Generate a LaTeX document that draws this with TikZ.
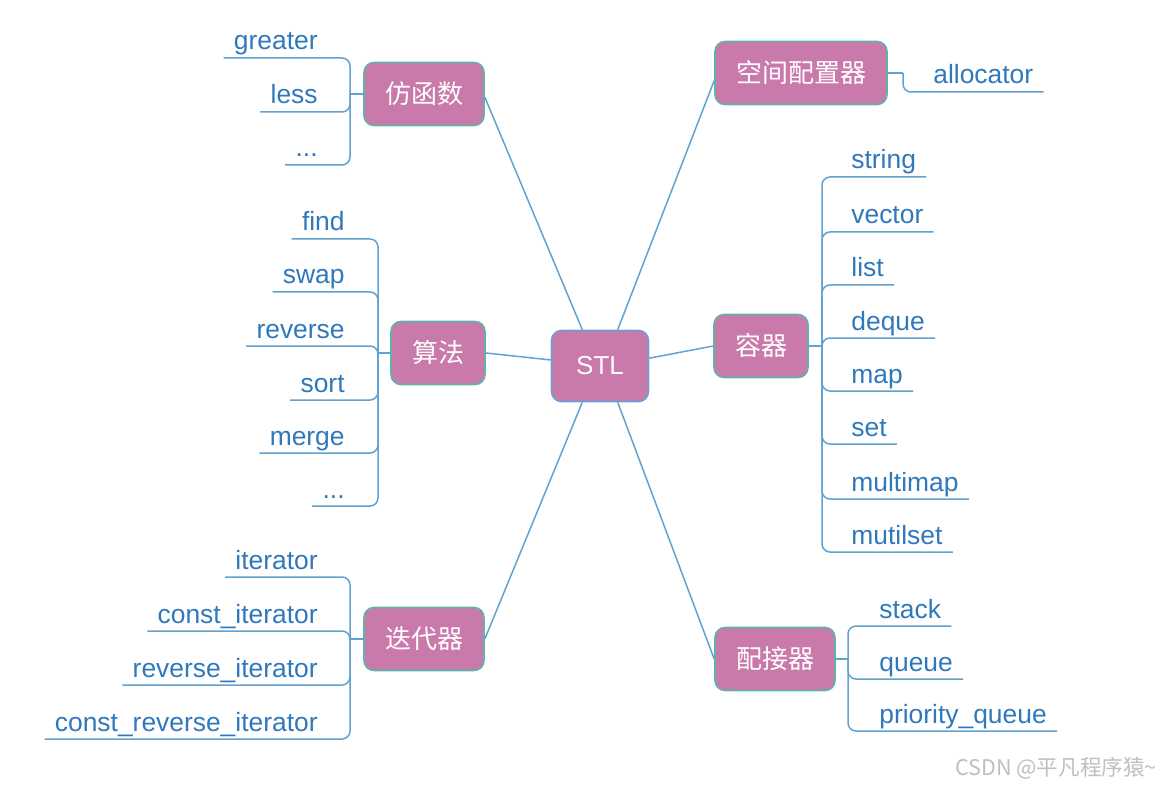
\documentclass[tikz,border=0pt]{standalone}
\usepackage{fontspec}
\usepackage{xcolor}
\usepackage{tikz}
\setmainfont{Liberation Sans}
\newfontfamily\cjk{Noto Sans CJK SC}
\definecolor{boxpink}{HTML}{C97AAA}
\definecolor{boxedge}{HTML}{5FB3A9}
\definecolor{stledge}{HTML}{6A9FD8}
\definecolor{leafblue}{HTML}{2F78BC}
\definecolor{linkblue}{HTML}{62A2CF}
\newcommand{\moredots}{...}

\begin{document}
\begin{tikzpicture}[x=0.5pt,y=-0.5pt]

			\tikzstyle{topic} = [draw=boxedge,fill=boxpink,text=white,rounded corners=5pt,line width=0.8pt,inner xsep=10.5pt,minimum height=31.5pt,font=\cjk\fontsize{13}{15}\selectfont]
			\tikzstyle{leaf} = [inner xsep=5pt,inner ysep=3.8pt,text depth=0pt,text=leafblue,font=\fontsize{13.2}{15}\selectfont]
			\tikzstyle{link} = [draw=linkblue,line width=0.75pt]
			\tikzstyle{branch} = [link,rounded corners=4pt]

			\useasboundingbox (0,0) rectangle (1167,786);

			% centre and main topics
			\node[topic,draw=stledge,font=\fontsize{13}{15}\selectfont,minimum width=48.5pt,minimum height=35.5pt] (stl) at (600,366) {STL};
			\node[topic] (func) at (424,94) {仿函数};
			\node[topic] (algo) at (438,353) {算法};
			\node[topic] (iter) at (424,639) {迭代器};
			\node[topic] (alloc) at (801,73) {空间配置器};
			\node[topic] (cont) at (761,346) {容器};
			\node[topic] (adapt) at (775,659) {配接器};

			\draw[link] (stl.116) -- (func.-3);
			\draw[link] (stl.173) -- (algo.east);
			\draw[link] (stl.244) -- (iter.east);
			\draw[link] (stl.64) -- (alloc.185);
			\draw[link] (stl.9) -- (cont.west);
			\draw[link] (stl.296) -- (adapt.west);

			% 仿函数
			\coordinate (fj) at (350,94);
			\draw[link] (func.west) -- (fj);
			\foreach \n/\t/\y in {greater/greater/58, less/less/112, fdots/\moredots/165}{
				\node[leaf,anchor=south east] (\n) at (328,\y) {\t};
				\draw[branch] (fj) |- (\n.south west);
			}

			% 算法
			\coordinate (aj) at (378,353);
			\draw[link] (algo.west) -- (aj);
			\foreach \n/\t/\y in {find/find/239, swap/swap/292, reverse/reverse/346, sort/sort/400, merge/merge/453, adots/\moredots/506}{
				\node[leaf,anchor=south east] (\n) at (355,\y) {\t};
				\draw[branch] (aj) |- (\n.south west);
			}

			% 迭代器
			\coordinate (ij) at (350,639);
			\draw[link] (iter.west) -- (ij);
			\foreach \n/\t/\y in {it/iterator/577, cit/const\_iterator/631, rit/reverse\_iterator/685, crit/const\_reverse\_iterator/739}{
				\node[leaf,anchor=south east] (\n) at (328,\y) {\t};
				\draw[branch] (ij) |- (\n.south west);
			}

			% 空间配置器
			\coordinate (sj) at (903,73);
			\draw[link] (alloc.east) -- (sj);
			\node[leaf,anchor=south west] (allocator) at (923,92) {allocator};
			\draw[branch] (sj) |- (allocator.south east);

			% 容器
			\coordinate (cj) at (822,346);
			\draw[link] (cont.east) -- (cj);
			\foreach \n/\t/\y in {string/string/177, vector/vector/232, list/list/285, deque/deque/338, map/map/391, set/set/444, multimap/multimap/499, mutilset/mutilset/552}{
				\node[leaf,anchor=south west] (\n) at (841,\y) {\t};
				\draw[branch] (cj) |- (\n.south east);
			}

			% 配接器
			\coordinate (pj) at (848,659);
			\draw[link] (adapt.east) -- (pj);
			\foreach \n/\t/\y in {stack/stack/626, queue/queue/679, pqueue/priority\_queue/731}{
				\node[leaf,anchor=south west] (\n) at (869,\y) {\t};
				\draw[branch] (pj) |- (\n.south east);
			}

			\node[anchor=east,text=gray!50,font=\cjk\fontsize{10.8}{12}\selectfont] (mark) at (1164,768) {CSDN @平凡程序猿\textasciitilde};
		\end{tikzpicture}
\end{document}
